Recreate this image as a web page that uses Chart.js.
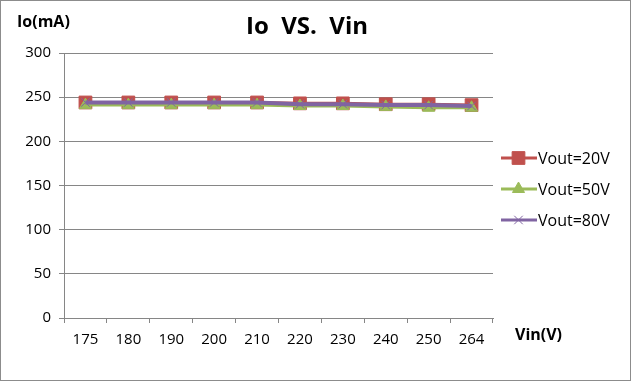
<!DOCTYPE html>
<html><head><meta charset="utf-8">
<script src="https://cdn.jsdelivr.net/npm/chart.js@4"></script>
<style>
html,body{margin:0;padding:0;background:#fff;}
#wrap{width:629px;height:379px;border:1px solid #8c8c8c;position:relative;}
canvas{display:block;}
</style></head><body>
<div id="wrap"><canvas id="c" width="629" height="379"></canvas></div>
<script>
const categories = ['175','180','190','200','210','220','230','240','250','264'];
const vout20 = [244,244,244,244,244,243,243,242,242,241];
const vout50 = [241,241,241,241,241,240,240,239,238,238];
const vout80 = [244,244,244,244,244,242,242,241,241,240];
const seriesNames = ['Vout=20V','Vout=50V','Vout=80V'];
const titleText = 'Io  VS.  Vin';
const yTitle = 'Io(mA)';
const xTitle = 'Vin(V)';

const FONT = '"Open Sans", "Noto Sans", sans-serif';
const colors = ['#C0504D','#9BBB59','#8064A2'];
const styles = ['rect','triangle','crossRot'];
const radii = [9, 7, 6];

const overlay = {
  id:'overlay',
  afterDraw(chart){
    const ctx = chart.ctx;
    ctx.save();
    ctx.fillStyle = '#000';
    ctx.textBaseline = 'middle';
    ctx.font = 'bold 24px ' + FONT;
    ctx.textAlign = 'center';
    ctx.fillText(titleText, 306, 26);
    ctx.font = 'bold 16px ' + FONT;
    ctx.textAlign = 'left';
    ctx.fillText(yTitle, 16, 21);
    ctx.fillText(xTitle, 514, 334);
    // legend
    ctx.font = '16px ' + FONT;
    const ys = [157, 188, 219];
    chart.data.datasets.forEach((ds, i) => {
      const y = ys[i];
      ctx.strokeStyle = ds.borderColor;
      ctx.lineWidth = 3;
      ctx.beginPath(); ctx.moveTo(500, y); ctx.lineTo(536, y); ctx.stroke();
      ctx.fillStyle = ds.backgroundColor;
      ctx.strokeStyle = ds.pointBorderColor || ds.borderColor;
      ctx.lineWidth = 1;
      Chart.helpers.drawPoint(ctx, {pointStyle: ds.pointStyle, radius: ds.pointRadius, rotation: 0, borderWidth: 1}, 517.5, y);
      ctx.fillStyle = '#000';
      ctx.fillText(ds.label, 537, y + 1);
    });
    ctx.restore();
  }
};

const mk = (i, data, order) => ({
  label: seriesNames[i], data,
  borderColor: colors[i], backgroundColor: colors[i],
  pointBorderColor: colors[i],
  pointStyle: styles[i], pointRadius: radii[i], pointBorderWidth: 1,
  borderWidth: i === 2 ? 4 : 3, tension: 0, order
});

new Chart(document.getElementById('c'), {
  type: 'line',
  data: { labels: categories, datasets: [mk(0, vout20, 3), mk(1, vout50, 2), mk(2, vout80, 1)] },
  options: {
    responsive: false, animation: false,
    layout: { padding: { left: 0, top: 52, right: 137, bottom: 0 } },
    plugins: { legend: { display: false }, tooltip: { enabled: false }, title: { display: false } },
    scales: {
      x: {
        offset: true,
        grid: { offset: true, drawOnChartArea: false, color: '#868686', tickLength: 5, tickWidth: 1 },
        border: { color: '#868686', width: 1 },
        ticks: { color: '#000', font: { family: FONT, size: 15 }, padding: 8, maxRotation: 0, autoSkip: false },
        afterFit(s){ s.height = 62; }
      },
      y: {
        min: 0, max: 300,
        grid: { color: '#868686', tickLength: 5, lineWidth: 1 },
        border: { color: '#868686', width: 1 },
        ticks: { stepSize: 50, color: '#000', font: { family: FONT, size: 15 }, padding: 8 },
        afterFit(s){ s.width = 63; }
      }
    }
  },
  plugins: [overlay]
});
</script>
</body></html>
